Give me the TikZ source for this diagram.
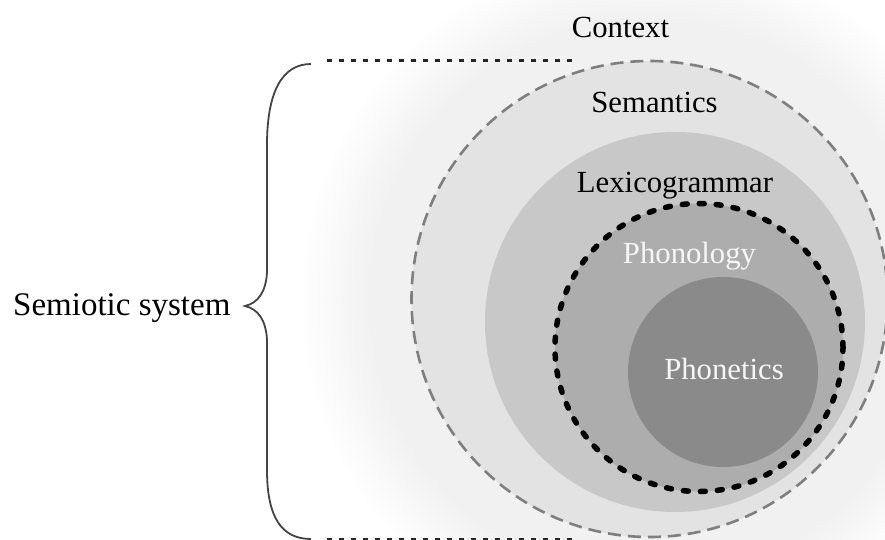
\documentclass[tikz,border=0pt]{standalone}
\usepackage{fontspec}
\setmainfont{Liberation Serif}
\definecolor{ctx}{HTML}{F1F1F1}
\definecolor{semfill}{HTML}{E3E3E3}
\definecolor{semline}{HTML}{7F7F7F}
\definecolor{lexfill}{HTML}{C8C8C8}
\definecolor{phonfill}{HTML}{ADADAD}
\definecolor{phetfill}{HTML}{8A8A8A}
\definecolor{lighttext}{HTML}{F6F6F6}
\definecolor{bracecol}{HTML}{444444}
\pgfdeclareradialshading{ctxglow}{\pgfpoint{0bp}{0bp}}{color(0bp)=(ctx); color(20bp)=(ctx); color(25bp)=(white); color(50bp)=(white)}
\begin{document}
\begin{tikzpicture}[x=1pt,y=-1pt,
  ring/.style={circle, inner sep=0pt, outer sep=0pt},
  lbl/.style={inner sep=0pt, anchor=base, font=\fontsize{30.7}{36}\selectfont},
  dotline/.style={line width=3pt, draw=black!85, dash pattern=on 5pt off 7pt},
]
\useasboundingbox (0,0) rectangle (885,540);
\clip (0,0) rectangle (885,540);
\fill[white] (0,0) rectangle (885,540);
% context glow
\shade[shading=ctxglow] (649.5,299) circle[radius=350pt];
% semantics
\node[ring, minimum size=476pt, fill=semfill, draw=semline, line width=2.6pt, dash pattern=on 13pt off 7pt] (sem) at (649.5,299) {};
% lexicogrammar
\node[ring, minimum size=380pt, fill=lexfill] (lex) at (675,322) {};
% phonology
\node[ring, minimum size=288pt, fill=phonfill, draw=black, line width=5.5pt, line cap=round, dash pattern=on 5pt off 12pt] (phon) at (699,347.5) {};
% phonetics
\node[ring, minimum size=190pt, fill=phetfill] (phet) at (723,372) {};
% labels
\node[lbl] (tctx) at (620.5,38) {Context};
\node[lbl] (tsem) at (654.5,113) {Semantics};
\node[lbl] (tlex) at (675,192) {Lexicogrammar};
\node[lbl, text=lighttext] (tphon) at (689.5,263) {Phonology};
\node[lbl, text=lighttext] (tphet) at (724,379) {Phonetics};
\node[inner sep=0pt, anchor=base west, font=\fontsize{33}{38}\selectfont] (tsys) at (13,315) {Semiotic system};
% dotted lines
\coordinate (d1a) at (327,61);
\coordinate (d1b) at (572,61);
\coordinate (d2a) at (327,539);
\coordinate (d2b) at (572,539);
\draw[dotline] (d1a) -- (d1b);
\draw[dotline] (d2a) -- (d2b);
% brace
\draw[bracecol, line width=1.8pt]
  (311,64) .. controls (282,64) and (267,92) .. (267,145)
  -- (267,272) .. controls (266,292) and (258,303) .. (245,306)
  .. controls (258,309) and (266,320) .. (267,340)
  -- (267,470) .. controls (267,518) and (282,539) .. (311,539);
\end{tikzpicture}
\end{document}
